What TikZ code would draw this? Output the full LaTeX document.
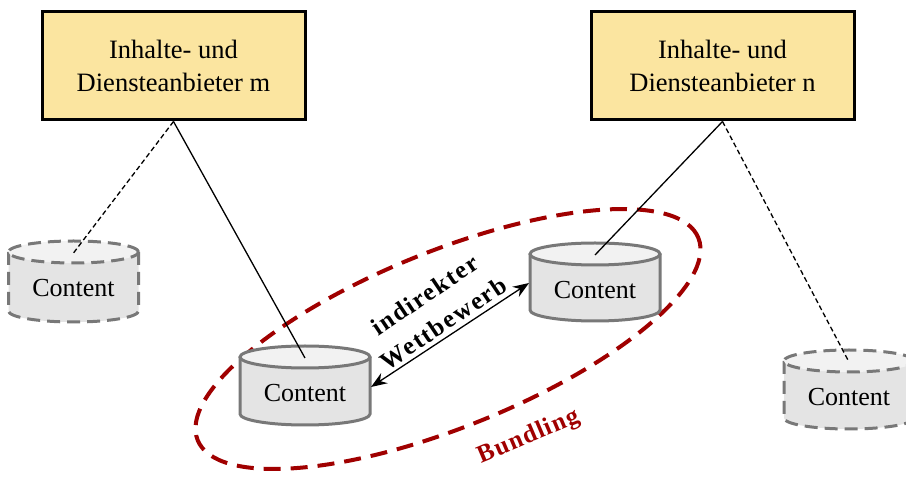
\documentclass[tikz,border=0pt]{standalone}
\usepackage{fontspec}
\setmainfont{Liberation Serif}
\usetikzlibrary{arrows.meta}
\definecolor{boxfill}{HTML}{FBE5A0}
\definecolor{cylbody}{HTML}{E4E4E4}
\definecolor{cyltop}{HTML}{F2F2F2}
\definecolor{cylline}{HTML}{787878}
\definecolor{bundred}{HTML}{A00000}
\tikzset{
  anbieter/.style={draw=black,line width=3pt,fill=boxfill,minimum width=263pt,minimum height=108pt,align=center,font=\fontsize{26.5}{33}\selectfont},
  cylsolid/.style={draw=cylline,line width=3pt},
  cyldash/.style={draw=cylline,line width=3pt,dash pattern=on 13pt off 7pt},
  cyltext/.style={font=\fontsize{26}{30}\selectfont,inner sep=0pt},
  link/.style={line width=1.3pt},
  linkdash/.style={line width=1.3pt,dash pattern=on 5pt off 3pt},
  bundle/.style={draw=bundred,line width=4pt,dash pattern=on 17pt off 10pt},
  competition/.style={line width=1.3pt,>={Stealth[length=16pt,width=12pt]},<->},
}
\newcommand\ccyl[5]{%
  \fill[cylbody] ({#2-65},#3) -- ({#2-65},{#3-#4}) arc[start angle=180,end angle=360,x radius=65,y radius=11] -- ({#2+65},#3) -- cycle;
  \draw[#5] ({#2-65},#3) -- ({#2-65},{#3-#4}) arc[start angle=180,end angle=360,x radius=65,y radius=11] -- ({#2+65},#3);
  \draw[#5,fill=cyltop] (#2,#3) ellipse[x radius=65,y radius=11];
  \node[cyltext] (#1) at (#2,{#3-36}) {Content};
  \coordinate (#1top) at (#2,{#3-1});
  \coordinate (#1west) at ({#2-66},{#3-29});
  \coordinate (#1east) at ({#2+66},{#3-30});
}
\begin{document}
\begin{tikzpicture}[x=1pt,y=1pt]
\useasboundingbox (0,0) rectangle (906,477);
% bundling ellipse
\draw[bundle] (448,138) ellipse[x radius=270,y radius=88,rotate=22];
% cylinders
\ccyl{cA}{73.5}{225}{59}{cyldash}
\ccyl{cB}{305}{120}{57}{cylsolid}
\ccyl{cC}{595}{223}{56}{cylsolid}
\ccyl{cD}{849}{116}{57}{cyldash}
% provider boxes
\node[anbieter] (pm) at (173.5,411) {Inhalte- und\\Diensteanbieter m};
\node[anbieter] (pn) at (722.5,411) {Inhalte- und\\Diensteanbieter n};
% links
\draw[linkdash] (pm.south) -- (cAtop);
\draw[link] (pm.south) -- (cBtop);
\draw[link] (pn.south) -- (cCtop);
\draw[linkdash] (pn.south) -- (cDtop);
% competition arrow
\draw[competition] (cBeast) -- (cCwest);
\node[rotate=34,align=center,inner sep=0pt,font=\bfseries\fontsize{25}{34}\selectfont\addfontfeature{LetterSpace=7}] (iw) at (434,168) {indirekter\\Wettbewerb};
\node[rotate=23,text=bundred,inner sep=0pt,font=\bfseries\fontsize{25}{30}\selectfont\addfontfeature{LetterSpace=5}] (bl) at (529,40) {Bundling};
\end{tikzpicture}
\end{document}
